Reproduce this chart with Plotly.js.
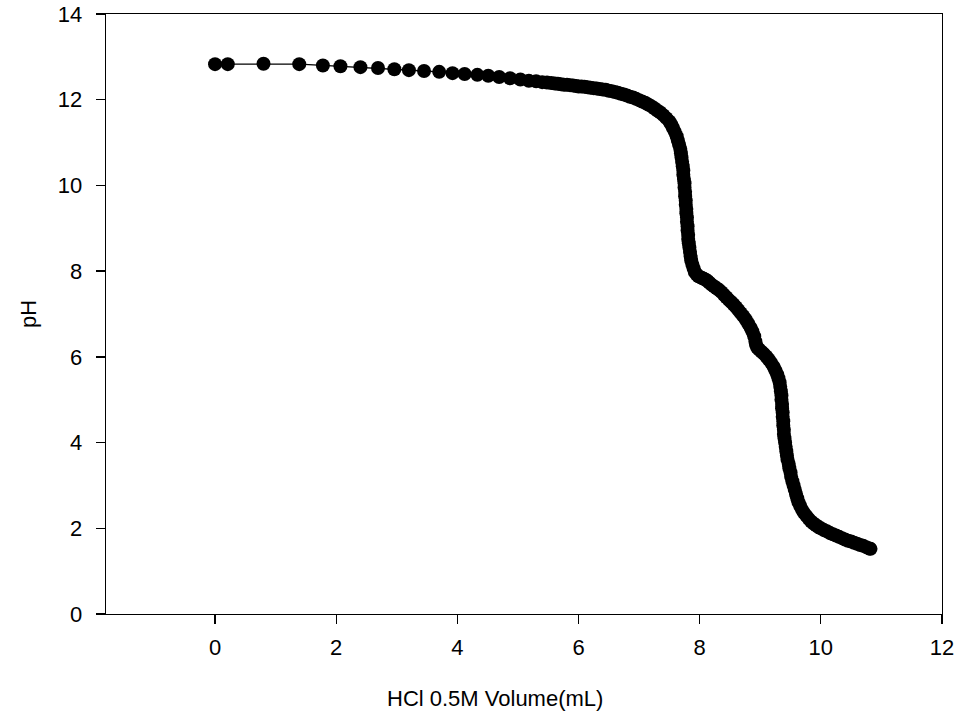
<!DOCTYPE html>
<html>
<head>
<meta charset="utf-8">
<script src="https://cdn.plot.ly/plotly-3.0.1.min.js"></script>
<style>html,body{margin:0;padding:0;background:#fff;}#chart{width:961px;height:715px;}</style>
</head>
<body>
<div id="chart"></div>
<script>
// HCl 0.5M volume (mL)
const volume = [
  0.00, 0.21, 0.80, 1.39, 1.78, 2.07, 2.40, 2.69, 2.96, 3.20, 3.45, 3.70, 3.92, 4.12, 4.33,
  4.51, 4.69, 4.87, 5.04, 5.18, 5.30, 5.40, 5.48, 5.55, 5.61, 5.66, 5.71, 5.76, 5.81, 5.86, 5.91, 5.96,
  6.00, 6.05, 6.10, 6.15, 6.20, 6.25, 6.30, 6.35, 6.40, 6.45, 6.50, 6.55, 6.60, 6.65, 6.70, 6.75,
  6.80, 6.85, 6.90, 6.95, 7.00, 7.05, 7.10, 7.15, 7.20, 7.25, 7.30, 7.35, 7.40, 7.45, 7.50,
  7.53, 7.56, 7.59, 7.62, 7.64, 7.66, 7.68, 7.69, 7.70, 7.71, 7.72, 7.73, 7.73, 7.74, 7.75, 7.75,
  7.76, 7.76, 7.77, 7.77, 7.78, 7.78, 7.79, 7.79, 7.80, 7.80, 7.81, 7.81, 7.82, 7.83, 7.84, 7.85,
  7.86, 7.88, 7.90, 7.92, 7.95, 7.98, 8.01, 8.04, 8.07, 8.10, 8.13, 8.16, 8.20, 8.24, 8.28, 8.32,
  8.36, 8.40, 8.44, 8.48, 8.52, 8.56, 8.60, 8.64, 8.68, 8.72, 8.76, 8.80, 8.84, 8.87, 8.90, 8.92,
  8.93, 8.95, 8.98, 9.02, 9.06, 9.10, 9.14, 9.18, 9.22, 9.25, 9.28, 9.30, 9.32, 9.33, 9.34, 9.35,
  9.35, 9.36, 9.36, 9.37, 9.37, 9.38, 9.38, 9.39, 9.39, 9.40, 9.41, 9.42, 9.43, 9.44, 9.45, 9.47,
  9.48, 9.50, 9.51, 9.53, 9.55, 9.57, 9.59, 9.61, 9.63, 9.66, 9.69, 9.72, 9.76, 9.80, 9.84, 9.88,
  9.92, 9.96, 10.00, 10.05, 10.10, 10.15, 10.20, 10.25, 10.30, 10.35, 10.40, 10.45, 10.50, 10.55,
  10.60, 10.65, 10.70, 10.75, 10.80, 10.82
];
// measured pH
const pH = [
  12.83, 12.83, 12.84, 12.83, 12.80, 12.78, 12.76, 12.74, 12.71, 12.69, 12.67, 12.65, 12.62, 12.60, 12.58,
  12.56, 12.53, 12.50, 12.47, 12.44, 12.43, 12.41, 12.40, 12.39, 12.38, 12.37, 12.36, 12.35, 12.35, 12.34, 12.33, 12.32,
  12.31, 12.31, 12.30, 12.29, 12.28, 12.27, 12.26, 12.25, 12.24, 12.23, 12.21, 12.20, 12.18, 12.16, 12.14, 12.12,
  12.10, 12.07, 12.05, 12.02, 11.99, 11.96, 11.93, 11.89, 11.85, 11.80, 11.75, 11.70, 11.64, 11.57, 11.49,
  11.42, 11.34, 11.25, 11.15, 11.05, 10.95, 10.85, 10.75, 10.65, 10.55, 10.45, 10.35, 10.25, 10.15, 10.05, 9.95,
  9.85, 9.75, 9.65, 9.55, 9.45, 9.35, 9.25, 9.15, 9.05, 8.95, 8.85, 8.75, 8.65, 8.55, 8.45, 8.35,
  8.25, 8.15, 8.06, 7.98, 7.92, 7.88, 7.86, 7.84, 7.82, 7.80, 7.77, 7.73, 7.68, 7.64, 7.60, 7.56,
  7.51, 7.45, 7.39, 7.33, 7.28, 7.22, 7.16, 7.09, 7.02, 6.95, 6.87, 6.78, 6.68, 6.59, 6.48, 6.36,
  6.28, 6.22, 6.17, 6.12, 6.07, 6.01, 5.94, 5.86, 5.77, 5.68, 5.59, 5.50, 5.40, 5.30, 5.20, 5.10,
  5.00, 4.90, 4.80, 4.70, 4.60, 4.50, 4.40, 4.30, 4.20, 4.10, 4.00, 3.90, 3.80, 3.70, 3.60, 3.50,
  3.40, 3.30, 3.20, 3.10, 3.00, 2.90, 2.80, 2.70, 2.61, 2.52, 2.43, 2.36, 2.29, 2.22, 2.16, 2.11,
  2.07, 2.03, 2.00, 1.96, 1.93, 1.89, 1.86, 1.83, 1.80, 1.77, 1.74, 1.71, 1.69, 1.66,
  1.64, 1.61, 1.59, 1.56, 1.53, 1.52
];
const xTicks = [0, 2, 4, 6, 8, 10, 12];
const yTicks = [0, 2, 4, 6, 8, 10, 12, 14];
const xTitle = 'HCl 0.5M Volume(mL)';
const yTitle = 'pH';

const font = {family: '"Liberation Sans", Arial, sans-serif', size: 22, color: '#000'};

Plotly.newPlot('chart', [{
  x: volume, y: pH, type: 'scatter', mode: 'lines+markers',
  line: {color: '#000', width: 1.3},
  marker: {color: '#000', size: 14},
  cliponaxis: false, hoverinfo: 'skip'
}], {
  width: 961, height: 715,
  margin: {l: 106, r: 19, t: 14, b: 101, pad: 0},
  paper_bgcolor: '#fff', plot_bgcolor: '#fff',
  showlegend: false,
  font: font,
  xaxis: {
    range: [-1.8, 12], tickvals: xTicks, ticktext: xTicks.map(String),
    showgrid: false, zeroline: false, showline: true, mirror: true,
    linecolor: '#000', linewidth: 1.3, ticks: 'outside', ticklen: 9, tickwidth: 1.3, tickcolor: '#000',
    tickfont: font, automargin: false, ticklabelstandoff: 4
  },
  yaxis: {
    range: [0, 14], tickvals: yTicks, ticktext: yTicks.map(String),
    showgrid: false, zeroline: false, showline: true, mirror: true,
    linecolor: '#000', linewidth: 1.3, ticks: 'outside', ticklen: 9, tickwidth: 1.3, tickcolor: '#000',
    tickfont: font, automargin: false, ticklabelstandoff: 9
  },
  annotations: [
    {text: xTitle, xref: 'paper', yref: 'paper', x: 0.4653, y: -0.14,
     xanchor: 'center', yanchor: 'middle', showarrow: false, font: font},
    {text: yTitle, xref: 'paper', yref: 'paper', x: -0.0933, y: 0.5, textangle: -90,
     xanchor: 'center', yanchor: 'middle', showarrow: false, font: font}
  ]
}, {staticPlot: true, displayModeBar: false});
</script>
</body>
</html>
